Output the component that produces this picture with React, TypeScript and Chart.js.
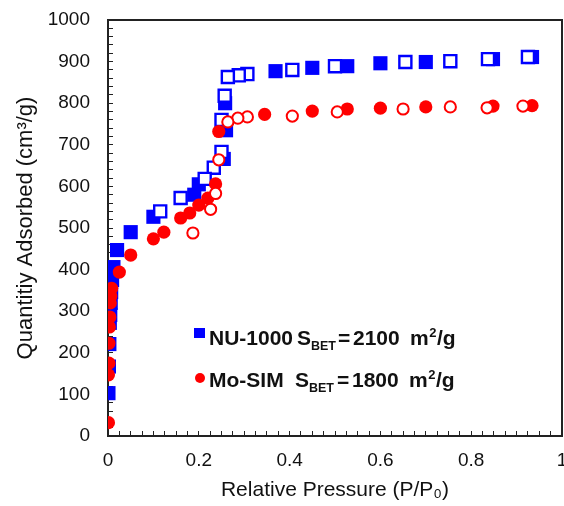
import React, { useEffect, useRef } from 'react';
import { Chart, registerables } from 'chart.js';

Chart.register(...registerables);

// NU-1000 adsorption (filled squares) [P/P0, cm3/g]
const nuAdsorption: [number, number][] = [
  [0.001, 103], [0.002, 167], [0.003, 221], [0.004, 272], [0.005, 291], [0.006, 320],
  [0.007, 346], [0.009, 375], [0.012, 406], [0.02, 447], [0.05, 490], [0.10, 527],
  [0.19, 580], [0.20, 605], [0.255, 666], [0.26, 735], [0.258, 800], [0.369, 877],
  [0.45, 885], [0.527, 889], [0.60, 896], [0.70, 899], [0.848, 906], [0.934, 911],
];
// NU-1000 desorption (open squares)
const nuDesorption: [number, number][] = [
  [0.925, 911], [0.837, 906], [0.754, 901], [0.655, 899], [0.50, 889], [0.406, 880],
  [0.307, 870], [0.288, 867], [0.264, 863], [0.257, 818], [0.25, 760], [0.25, 683],
  [0.233, 645], [0.213, 618], [0.16, 572], [0.115, 540],
];
// Mo-SIM adsorption (filled circles)
const moAdsorption: [number, number][] = [
  [0.001, 32], [0.001, 147], [0.002, 175], [0.002, 223], [0.003, 262], [0.004, 286],
  [0.005, 320], [0.006, 336], [0.008, 355], [0.025, 394], [0.05, 435], [0.10, 474],
  [0.123, 490], [0.16, 524], [0.18, 536], [0.20, 555], [0.22, 572], [0.237, 606],
  [0.244, 732], [0.345, 773], [0.45, 781], [0.527, 786], [0.60, 788], [0.70, 791],
  [0.848, 793], [0.934, 794],
];
// Mo-SIM desorption (open circles)
const moDesorption: [number, number][] = [
  [0.914, 793], [0.835, 789], [0.754, 791], [0.65, 786], [0.505, 779], [0.406, 769],
  [0.307, 767], [0.286, 764], [0.264, 755], [0.244, 664], [0.237, 583], [0.226, 545],
  [0.187, 488],
];

const xTickLabels = [0, 0.2, 0.4, 0.6, 0.8, 1];
const yTickLabels = [0, 100, 200, 300, 400, 500, 600, 700, 800, 900, 1000];

const legendNames = ['NU-1000', 'Mo-SIM'];
const legendValues = ['2100', '1800'];

const BLUE = '#0000ff';
const RED = '#ff0000';
const INK = '#111111';
const FONT = '"Liberation Sans", Arial, Helvetica, sans-serif';

const toPts = (arr: [number, number][]) => arr.map(([x, y]) => ({ x, y }));
const zeroPad = () => ({ left: 0, top: 0, right: 0, bottom: 0 });

const framePlugin = {
  id: 'frameAndLegend',
  afterDraw(chart: any) {
    const { ctx, chartArea: a } = chart;
    ctx.save();
    ctx.strokeStyle = '#222';
    ctx.lineWidth = 2;
    ctx.beginPath();
    ctx.moveTo(a.left, a.top);
    ctx.lineTo(a.right, a.top);
    ctx.lineTo(a.right, a.bottom);
    ctx.stroke();

    // legend
    const mainFont = `bold 21px ${FONT}`;
    const subFont = `bold 12.5px ${FONT}`;
    const supFont = `bold 13px ${FONT}`;
    const rows = [
      { y: 345, color: BLUE, square: true, sx: 297, ex: 338 },
      { y: 387, color: RED, square: false, sx: 295, ex: 337 },
    ];
    rows.forEach((r, i) => {
      ctx.fillStyle = r.color;
      if (r.square) {
        ctx.fillRect(194, r.y - 17, 11, 10);
      } else {
        ctx.beginPath();
        ctx.arc(200, r.y - 9, 5, 0, Math.PI * 2);
        ctx.fill();
      }
      ctx.fillStyle = INK;
      ctx.textBaseline = 'alphabetic';
      ctx.textAlign = 'left';
      ctx.font = mainFont;
      ctx.fillText(legendNames[i], 209, r.y);
      ctx.fillText('S', r.sx, r.y);
      const x = r.sx + ctx.measureText('S').width;
      ctx.font = subFont;
      ctx.fillText('BET', x, r.y + 5);
      ctx.font = mainFont;
      ctx.fillText('=', r.ex, r.y);
      ctx.fillText(legendValues[i], r.ex + 15, r.y);
      ctx.fillText('m', r.ex + 72, r.y);
      const mEnd = r.ex + 72 + ctx.measureText('m').width;
      ctx.font = supFont;
      ctx.fillText('2', mEnd + 0.5, r.y - 8);
      const supEnd = mEnd + 0.5 + ctx.measureText('2').width;
      ctx.font = mainFont;
      ctx.fillText('/g', supEnd + 0.5, r.y);
    });
    ctx.restore();
  },
};

export default function App() {
  const ref = useRef<HTMLCanvasElement | null>(null);
  useEffect(() => {
    if (!ref.current) return;
    const chart = new Chart(ref.current, {
      type: 'scatter',
      data: {
        datasets: [
          {
            label: 'Mo-SIM desorption',
            data: toPts(moDesorption),
            pointStyle: 'circle',
            pointRadius: 5.6,
            pointBorderWidth: 2,
            pointBackgroundColor: '#ffffff',
            pointBorderColor: RED,
          },
          {
            label: 'Mo-SIM adsorption',
            data: toPts(moAdsorption),
            pointStyle: 'circle',
            pointRadius: 6.6,
            pointBorderWidth: 0,
            pointBackgroundColor: RED,
            pointBorderColor: RED,
          },
          {
            label: 'NU-1000 desorption',
            data: toPts(nuDesorption),
            pointStyle: 'rect',
            pointRadius: 8.5,
            pointBorderWidth: 2.4,
            pointBackgroundColor: '#ffffff',
            pointBorderColor: BLUE,
          },
          {
            label: 'NU-1000 adsorption',
            data: toPts(nuAdsorption),
            pointStyle: 'rect',
            pointRadius: 10,
            pointBorderWidth: 0,
            pointBackgroundColor: BLUE,
            pointBorderColor: BLUE,
          },
        ] as any,
      },
      options: {
        animation: false,
        responsive: false,
        devicePixelRatio: 1,
        layout: { autoPadding: false, padding: { top: 20, right: 2, bottom: 0, left: 0 } },
        plugins: { legend: { display: false }, tooltip: { enabled: false } },
        scales: {
          x: {
            type: 'linear',
            min: 0,
            max: 1,
            ticks: {
              stepSize: 0.025,
              autoSkip: false,
              maxTicksLimit: 1000,
              maxRotation: 0,
              padding: 18,
              color: INK,
              font: { family: FONT, size: 19 },
              callback: (v: any) => {
                const n = Number(v);
                const hit = xTickLabels.find((t) => Math.abs(t - n) < 1e-6);
                if (hit === undefined) return '';
                return hit === 0 || hit === 1 ? String(hit) : hit.toFixed(1);
              },
            },
            grid: { drawOnChartArea: false, drawTicks: true, tickLength: -5, color: '#222', lineWidth: 1 },
            border: { display: true, color: '#222', width: 2 },
            title: {
              display: true,
              text: 'Relative Pressure (P/P₀)',
              color: INK,
              font: { family: FONT, size: 21 },
              padding: { top: 0, bottom: 3 },
            },
            afterFit: (s: any) => {
              s.height = 70;
              s.paddingLeft = 0;
              s.paddingRight = 0;
              s.getPadding = zeroPad;
            },
          } as any,
          y: {
            type: 'linear',
            min: 0,
            max: 1000,
            ticks: {
              stepSize: 20,
              autoSkip: false,
              maxTicksLimit: 1000,
              padding: 23,
              color: INK,
              font: { family: FONT, size: 19 },
              callback: (v: any) => (yTickLabels.includes(Number(v)) ? String(v) : ''),
            },
            grid: { drawOnChartArea: false, drawTicks: true, tickLength: -5, color: '#222', lineWidth: 1 },
            border: { display: true, color: '#222', width: 2 },
            title: {
              display: true,
              text: 'Quantitiy Adsorbed (cm³/g)',
              color: INK,
              font: { family: FONT, size: 22 },
              padding: { top: 13, bottom: 0 },
            },
            afterFit: (s: any) => {
              s.width = 108;
              s.paddingTop = 0;
              s.paddingBottom = 0;
              s.getPadding = zeroPad;
            },
          } as any,
        },
      },
      plugins: [framePlugin],
    } as any);
    return () => chart.destroy();
  }, []);

  return (
    <div style={{ position: 'fixed', left: 0, top: 0, width: 564, height: 506, background: '#fff' }}>
      <canvas ref={ref} width={564} height={506} style={{ width: 564, height: 506, display: 'block' }} />
    </div>
  );
}
